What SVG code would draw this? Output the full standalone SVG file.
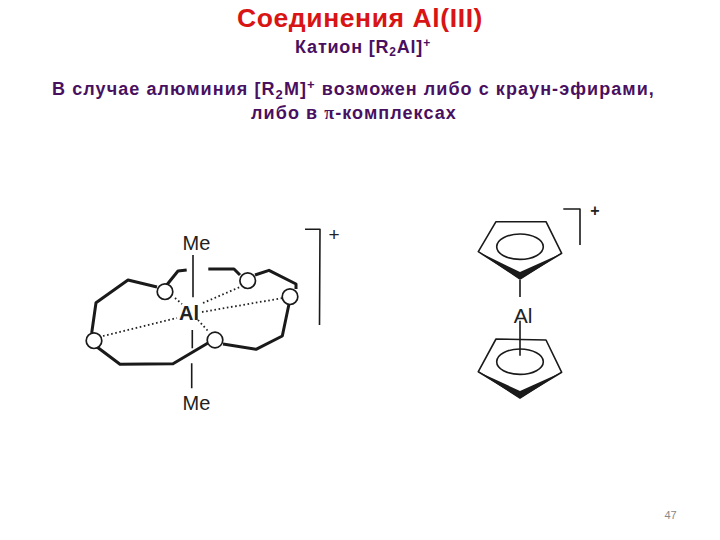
<svg xmlns="http://www.w3.org/2000/svg" width="720" height="540" viewBox="0 0 720 540">
<style>
.t{font-family:"Liberation Sans",Arial,sans-serif;font-weight:bold;fill:#4a1060;text-anchor:middle}
.s{font-size:18px;letter-spacing:1.07px}
.c{font-family:"Liberation Sans",Arial,sans-serif;fill:#222;text-anchor:middle}
.ln{fill:none;stroke:#1a1a1a;stroke-width:1.6;stroke-linejoin:round}
.th{fill:none;stroke:#1a1a1a;stroke-width:3;stroke-linejoin:round}
.dot{fill:none;stroke:#222;stroke-width:1.8;stroke-dasharray:1.6 2.6}
.o{fill:#fff;stroke:#1a1a1a;stroke-width:1.7}
.w{fill:#1a1a1a;stroke:none}
</style>
<rect width="720" height="540" fill="#fff"/>
<g id="heading">
<text x="360" y="27" text-anchor="middle" font-family="'Liberation Sans',Arial,sans-serif" font-weight="bold" font-size="26.500" letter-spacing="0.600" fill="#d81414">Соединения Al(III)</text>
<text class="t" x="363" y="53" font-size="18" letter-spacing="0.800">Катион [R<tspan font-size="12" dy="3">2</tspan><tspan dy="-3">Al]</tspan><tspan font-size="12" dy="-6">+</tspan></text>
<text class="t s" x="353.500" y="95">В случае алюминия [R<tspan font-size="13" dy="4">2</tspan><tspan dy="-4">M]</tspan><tspan font-size="13" dy="-6">+</tspan><tspan dy="6"> возможен либо с краун-эфирами,</tspan></text>
<text class="t s" x="354" y="119">либо в <tspan font-family="'Liberation Serif',serif">π</tspan>-комплексах</text>
</g>
<g id="connectors">
<path class="th" d="M186.700 270L178 271L166.700 285M157 287L128 280L96 302.700L91.700 333M96.700 346.700L120 364.300L173 363.700L208 343M223 344L256 349.300L282.300 336L289 304M296 289L296 284L269 270.300L255 275M240 275L234 269L208.300 269"/>
<path class="ln" d="M193 255V297.300M192.300 330V348.300M191.700 363.300V388.300" stroke-width="1.800"/>
<path class="dot" d="M175 298L182 304M103 336L177 318M203 303L240 287M202 312L283 298M198 320L208 331"/>
<path class="ln" d="M305 229.300H320L319.500 325"/>
<path class="ln" d="M520 280V297M520 320.700V355.700"/>
<path class="ln" d="M563.300 209H580V245"/>
</g>
<g id="crown-complex">
<circle class="o" cx="165" cy="291.700" r="7.800"/>
<circle class="o" cx="94" cy="340.700" r="7.800"/>
<circle class="o" cx="215" cy="340" r="7.800"/>
<circle class="o" cx="247.700" cy="280.700" r="7.800"/>
<circle class="o" cx="290" cy="296.700" r="7.800"/>
<text class="c" x="196.500" y="249.500" font-size="20">Me</text>
<text class="c" x="189" y="320" font-size="20" font-weight="bold">Al</text>
<text class="c" x="196.500" y="410" font-size="20">Me</text>
<text class="c" x="334" y="241" font-size="19">+</text>
</g>
<g id="cp-top">
<path class="ln" d="M496 221.700H546L561.700 253.300L520 278.300L478.300 251.700Z"/>
<path class="w" d="M478.300 251.700L520 272L561.700 253.300L520 280Z"/>
<ellipse class="ln" cx="520" cy="246.700" rx="23.300" ry="12.700"/>
</g>
<g id="cp-bottom">
<path class="ln" d="M496 339L546 340L561.700 372.300L520 397.300L478.300 371.700Z"/>
<path class="w" d="M478.300 371.700L520 391L561.700 372.300L520 399Z"/>
<ellipse class="ln" cx="520" cy="361.700" rx="23.300" ry="12.700"/>
</g>
<g id="al-center">
<text class="c" x="523" y="323" font-size="21">Al</text>
<text class="c" x="595" y="216" font-size="16" font-weight="bold">+</text>
</g>
<text id="page" x="670.500" y="519" text-anchor="middle" font-family="'Liberation Sans',Arial,sans-serif" font-size="11" fill="#888">47</text>
</svg>
